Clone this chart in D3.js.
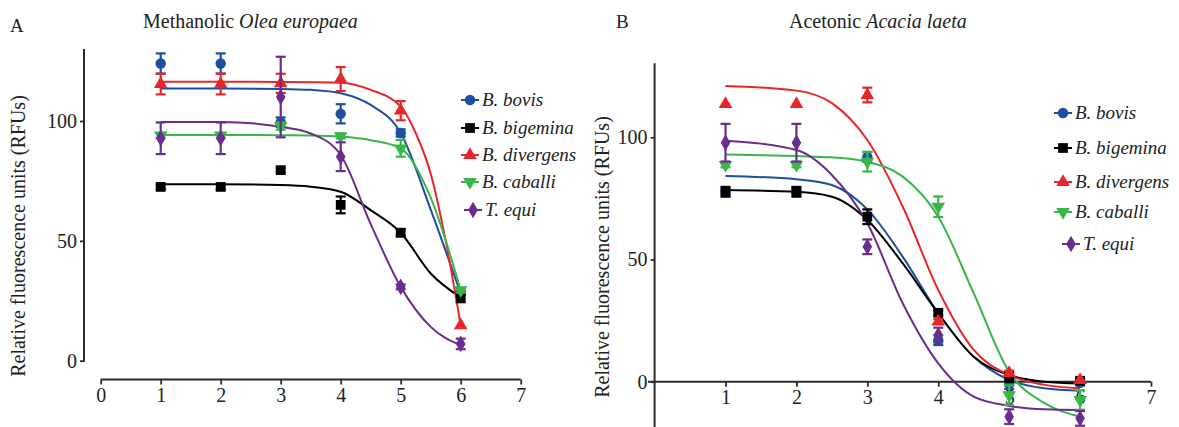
<!DOCTYPE html>
<html>
<head>
<meta charset="utf-8">
<script src="https://cdn.jsdelivr.net/npm/d3@7"></script>
<style>
  body { margin: 0; background: #fff; }
  svg { display: block; font-family: "Liberation Serif", "Times New Roman", serif; }
</style>
</head>
<body>
<svg id="chart" width="1179" height="427"></svg>
<script>
const species = ['B. bovis', 'B. bigemina', 'B. divergens', 'B. caballi', 'T. equi'];
const colors = ['#1d4ea0', '#000000', '#e8262a', '#3ab54a', '#6a2c8f'];
const symbols = ['circle', 'square', 'triUp', 'triDown', 'diamond'];
const doses = [1, 2, 3, 4, 5, 6];

// Panel A: Methanolic Olea europaea
const meanA = [
    [124, 124, 99.5, 103, 95, 28],
    [72.5, 72.5, 79.5, 65, 53.4, 26.4],
    [115.4, 115.4, 115.7, 117.5, 104.3, 14.8],
    [94, 94, 97.9, 93.7, 88.6, 29.4],
    [92.8, 92.8, 110, 85.1, 30.8, 7]
];
const errA = [
    [4.2, 4.2, 2, 4, 1.5, 1],
    [1, 1, 1, 3.5, 1.5, 2],
    [4.3, 4.3, 4, 5, 4, 0],
    [1, 1, 1.5, 1, 3.5, 1],
    [6.6, 6.6, 16.8, 6, 1, 2.2]
];
const fitA = [
    [[1, 113.6], [2, 113.6], [3, 113.4], [3.5, 113], [4, 111.6], [4.5, 106.7], [5, 95], [5.5, 63], [6, 28]],
    [[1, 73.6], [2, 73.6], [3, 73.3], [3.5, 72.6], [4, 70.5], [4.5, 62.8], [5, 53.4], [5.5, 36.4], [6, 26.4]],
    [[1, 116.4], [2, 116.4], [3, 116.3], [3.5, 116.2], [4, 116], [4.5, 113], [5, 106], [5.25, 95], [5.5, 78], [5.75, 50], [6, 14.8]],
    [[1, 94.2], [2, 94.2], [3, 94.1], [3.5, 94], [4, 93.5], [4.5, 92], [5, 88.6], [5.5, 68], [6, 29.4]],
    [[1, 99.6], [2, 99.6], [3, 97.6], [3.5, 94.8], [4, 85.8], [4.5, 57], [5, 30.8], [5.5, 14.1], [6, 6.5]]
];

// Panel B: Acetonic Acacia laeta
const meanB = [
    [77.7, 77.7, 92, 17, -1, -0.5],
    [77.7, 77.7, 67.5, 28.2, 2, 0.4],
    [113.6, 113.6, 117.3, 24.6, 3.5, 0.7],
    [88.7, 88.7, 90, 71.6, -5.5, -7.5],
    [97.8, 97.8, 55.2, 19.1, -14.3, -15]
];
const errB = [
    [1, 1, 2, 2, 2, 1],
    [2, 2, 3, 1, 2, 1],
    [0, 0, 3, 1, 1, 0.5],
    [1, 1, 4, 4.2, 4, 4],
    [7.7, 7.7, 3, 3, 3, 3]
];
const fitB = [
    [[1, 84.2], [2, 82.8], [2.5, 80.5], [3, 70.5], [3.5, 51.1], [4, 28], [4.5, 10.2], [5, 0.7], [5.5, -2.7], [6, -3.7]],
    [[1, 78.4], [2, 77.7], [2.5, 75.7], [3, 66.2], [3.5, 48.4], [4, 28], [4.5, 10.2], [5, 2.7], [5.5, 0], [6, -0.7]],
    [[1, 121], [2, 119.1], [2.5, 114], [3, 98.9], [3.5, 71.6], [4, 37.5], [4.5, 13], [5, 2.7], [5.5, -1.3], [6, -2.7]],
    [[1, 93], [2, 92.3], [2.5, 91.8], [3, 90], [3.5, 83.9], [4, 67.5], [4.5, 36.2], [5, 4], [5.5, -8.8], [6, -14.3]],
    [[1, 98.6], [2, 94.8], [2.5, 84.6], [3, 64.8], [3.5, 32], [4, 7.5], [4.5, -6.1], [5, -9.9], [5.5, -11.3], [6, -11.6]]
];

const yTicks = [0, 50, 100];
const xTicksA = [0, 1, 2, 3, 4, 5, 6, 7];
const xTicksB = [1, 2, 3, 4, 5, 6, 7];

const svg = d3.select('#chart');
const AXIS = '#2b2b2b';

function marker(g, kind, color) {
    const types = {
        circle: [d3.symbolCircle, 85, 0],
        square: [d3.symbolSquare, 95, 0],
        triUp: [d3.symbolTriangle, 80, 0],
        triDown: [d3.symbolTriangle, 80, 180],
        diamond: [d3.symbolDiamond, 80, 0]
    };
    const [t, size, rot] = types[kind];
    return g.append('path')
        .attr('d', d3.symbol().type(t).size(size)())
        .attr('transform', `rotate(${rot})`)
        .attr('fill', color);
}

function panel(p) {
    const { x, y } = p;
    const g = svg.append('g');

    // y axis
    const ya = g.append('g').attr('transform', `translate(${p.yAxisX},0)`)
        .call(d3.axisLeft(y).tickValues(yTicks).tickSize(4).tickPadding(3));
    ya.select('.domain').remove();
    ya.selectAll('line').attr('stroke', AXIS).attr('stroke-width', 1.8);
    ya.selectAll('text').attr('font-size', 20).attr('fill', '#222').attr('font-family', 'Liberation Serif');
    g.append('line').attr('x1', p.yAxisX).attr('x2', p.yAxisX)
        .attr('y1', y(p.yTop)).attr('y2', y(p.yBottom) + 1)
        .attr('stroke', AXIS).attr('stroke-width', 2);

    // x axis
    const xa = g.append('g').attr('transform', `translate(0,${p.xAxisY})`)
        .call(d3.axisBottom(x).tickValues(p.xTicks).tickSize(5).tickPadding(3).tickFormat(d3.format('d')));
    xa.select('.domain').remove();
    xa.selectAll('line').attr('stroke', AXIS).attr('stroke-width', 1.8);
    xa.selectAll('text').attr('font-size', 20).attr('fill', '#222').attr('font-family', 'Liberation Serif');
    g.append('line').attr('x1', p.xAxisStart).attr('x2', x(7))
        .attr('y1', p.xAxisY).attr('y2', p.xAxisY)
        .attr('stroke', AXIS).attr('stroke-width', 2);

    // fitted curves
    const line = d3.line().x(d => x(d[0])).y(d => y(d[1])).curve(d3.curveMonotoneX);
    p.fit.forEach((pts, i) => {
        g.append('path').attr('d', line(pts)).attr('fill', 'none')
            .attr('stroke', colors[i]).attr('stroke-width', 2);
    });

    // error bars and markers
    p.mean.forEach((vals, i) => {
        vals.forEach((v, j) => {
            const e = p.err[i][j];
            const cx = x(doses[j]);
            if (e > 0.5) {
                const eg = g.append('g').attr('stroke', colors[i]).attr('stroke-width', 2.2);
                eg.append('line').attr('x1', cx).attr('x2', cx).attr('y1', y(v + e)).attr('y2', y(v - e));
                eg.append('line').attr('x1', cx - 5).attr('x2', cx + 5).attr('y1', y(v + e)).attr('y2', y(v + e));
                eg.append('line').attr('x1', cx - 5).attr('x2', cx + 5).attr('y1', y(v - e)).attr('y2', y(v - e));
            }
            const mg = g.append('g').attr('transform', `translate(${cx},${y(v)})`);
            marker(mg, symbols[i], colors[i]);
        });
    });

    // legend
    species.forEach((s, i) => {
        const lx = p.legendX + (i === 4 ? p.lastShift : 0);
        const ly = p.legendY[i];
        g.append('line').attr('x1', lx - 9).attr('x2', lx + 9).attr('y1', ly).attr('y2', ly)
            .attr('stroke', colors[i]).attr('stroke-width', 2);
        const mg = g.append('g').attr('transform', `translate(${lx},${ly})`);
        marker(mg, symbols[i], colors[i]);
        g.append('text').attr('x', lx + 12).attr('y', ly + 6)
            .attr('font-size', 19).attr('font-style', 'italic').attr('fill', '#222')
            .text(s);
    });

    // y label
    g.append('text')
        .attr('transform', `translate(${p.yLabel[0]},${p.yLabel[1]}) rotate(-90)`)
        .attr('text-anchor', 'middle').attr('font-size', 20).attr('fill', '#222')
        .text('Relative fluorescence units (RFUs)');

    // panel letter and title
    g.append('text').attr('x', p.letter[0]).attr('y', p.letter[1])
        .attr('font-size', 19).attr('fill', '#222').text(p.letterText);
    const t = g.append('text').attr('x', p.title[0]).attr('y', p.title[1])
        .attr('font-size', 20).attr('fill', '#222');
    t.append('tspan').text(p.titleText[0]);
    t.append('tspan').attr('font-style', 'italic').text(p.titleText[1]);
}

panel({
    x: d3.scaleLinear().domain([0, 7]).range([100.7, 520.7]),
    y: d3.scaleLinear().domain([0, 100]).range([360.7, 121]),
    yAxisX: 84, yTop: 130, yBottom: 0,
    xAxisY: 379.5, xAxisStart: 100.7, xTicks: xTicksA,
    mean: meanA, err: errA, fit: fitA,
    legendX: 470, legendY: [100, 128, 155, 182, 210], lastShift: 3,
    yLabel: [25, 236],
    letter: [10, 32], letterText: 'A',
    title: [143, 28], titleText: ['Methanolic ', 'Olea europaea']
});

panel({
    x: d3.scaleLinear().domain([0, 7]).range([654.6, 1151]),
    y: d3.scaleLinear().domain([0, 100]).range([381.7, 137.3]),
    yAxisX: 654.6, yTop: 130.3, yBottom: -19,
    xAxisY: 381.7, xAxisStart: 648, xTicks: xTicksB,
    mean: meanB, err: errB, fit: fitB,
    legendX: 1063, legendY: [113, 148, 182, 212, 244], lastShift: 8,
    yLabel: [609, 257],
    letter: [616, 28], letterText: 'B',
    title: [789, 28], titleText: ['Acetonic ', 'Acacia laeta']
});
</script>
</body>
</html>
